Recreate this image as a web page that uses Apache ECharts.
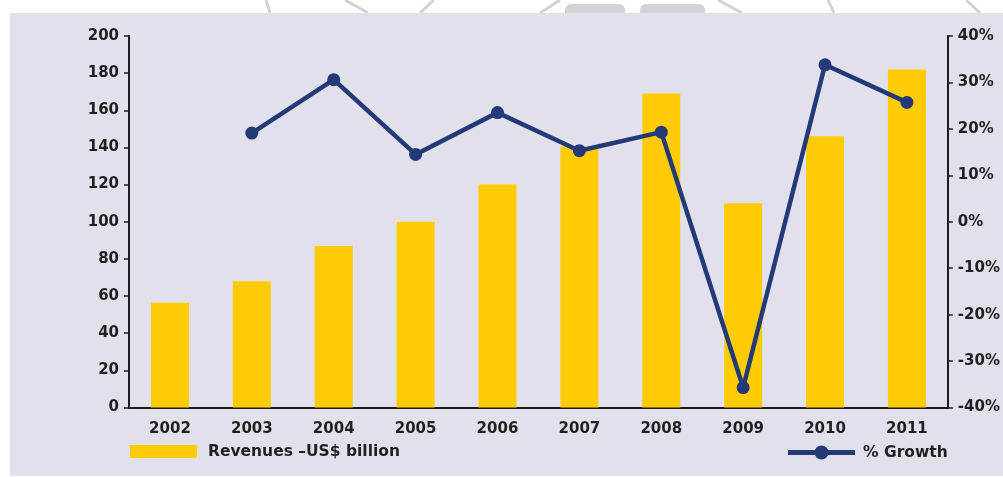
<!DOCTYPE html>
<html>
<head>
<meta charset="utf-8">
<script src="https://cdn.jsdelivr.net/npm/echarts@6/dist/echarts.min.js"></script>
<style>
  html, body { margin: 0; padding: 0; background: #ffffff; }
  #chart { width: 1003px; height: 477px; }
</style>
</head>
<body>
<div id="chart"></div>
<script>
// ---- data ----
const years = ['2002', '2003', '2004', '2005', '2006', '2007', '2008', '2009', '2010', '2011'];
const revenues = [56.4, 68, 87, 100, 120, 140.5, 169, 110, 146, 182];
const growth = [null, 19.1, 30.6, 14.5, 23.5, 15.3, 19.3, -35.7, 33.8, 25.7];
const revenueName = 'Revenues \u2013US$ billion';
const growthName = '% Growth';

const TXT = '#231f20';
const FONT = 'DejaVu Sans';
const WM = '#d3d3d6';
const NAVY = '#243a78';

// legend icon: thick line with a dot in the middle (67 x 14 box)
const lineDotIcon = 'path://M0,4.5 L67,4.5 L67,9.5 L0,9.5 Z M26.5,7 A7,7 0 1,1 40.5,7 A7,7 0 1,1 26.5,7 Z';

const chart = echarts.init(document.getElementById('chart'), null, { renderer: 'canvas' });

const wmLine = (x1, y1, x2, y2) => ({
  type: 'line', z: -20, silent: true,
  shape: { x1, y1, x2, y2 },
  style: { stroke: WM, lineWidth: 3 }
});

chart.setOption({
  backgroundColor: '#ffffff',
  animation: false,
  textStyle: { fontFamily: FONT },
  graphic: [
    wmLine(266, 0, 270, 13),
    wmLine(345, 0, 368, 13),
    wmLine(434, 0, 420, 13),
    wmLine(560, 0, 540, 13),
    { type: 'rect', z: -20, silent: true, shape: { x: 565, y: 4, width: 60, height: 14, r: 6 }, style: { fill: WM } },
    { type: 'rect', z: -20, silent: true, shape: { x: 640, y: 4, width: 65, height: 14, r: 6 }, style: { fill: WM } },
    wmLine(718, 0, 742, 13),
    wmLine(828, 0, 834, 13),
    wmLine(966, 0, 980, 13),
    { type: 'rect', z: -10, silent: true, shape: { x: 10, y: 13, width: 993, height: 463 }, style: { fill: '#e2e1eb' } }
  ],
  grid: { left: 129, right: 54, top: 36, bottom: 69.5, containLabel: false },
  legend: [
    {
      left: 130, top: 440, itemWidth: 67, itemHeight: 13, padding: 0,
      selectedMode: false,
      data: [{ name: revenueName, icon: 'rect' }],
      textStyle: { color: TXT, fontFamily: FONT, fontWeight: 'bold', fontSize: 15.5, lineHeight: 16, padding: [7, 0, 0, 6] }
    },
    {
      left: 788, top: 441, itemWidth: 67, itemHeight: 14, padding: 0,
      selectedMode: false,
      data: [{ name: growthName, icon: lineDotIcon, itemStyle: { color: NAVY } }],
      textStyle: { color: TXT, fontFamily: FONT, fontWeight: 'bold', fontSize: 15.5, lineHeight: 16, padding: [7, 0, 0, 3] }
    }
  ],
  xAxis: {
    type: 'category',
    data: years,
    boundaryGap: true,
    axisLine: { show: true, lineStyle: { color: '#1c1c1c', width: 2 } },
    axisTick: { show: false },
    axisLabel: { margin: 14, color: TXT, fontFamily: FONT, fontWeight: 'bold', fontSize: 15 },
    splitLine: { show: false }
  },
  yAxis: [
    {
      type: 'value', min: 0, max: 200, interval: 20, position: 'left',
      axisLine: { show: true, lineStyle: { color: '#1c1c1c', width: 2 } },
      axisTick: { show: true, length: 5, inside: false, lineStyle: { color: '#1c1c1c', width: 1.5 } },
      axisLabel: { margin: 10, color: TXT, fontFamily: FONT, fontWeight: 'bold', fontSize: 15, padding: [0, 0, 7, 0] },
      splitLine: { show: false }
    },
    {
      type: 'value', min: -40, max: 40, interval: 10, position: 'right',
      axisLine: { show: true, lineStyle: { color: '#1c1c1c', width: 2 } },
      axisTick: { show: true, length: 5, inside: false, lineStyle: { color: '#1c1c1c', width: 1.5 } },
      axisLabel: { margin: 10, color: TXT, fontFamily: FONT, fontWeight: 'bold', fontSize: 15, padding: [0, 0, 7, 0], formatter: '{value}%' },
      splitLine: { show: false }
    }
  ],
  series: [
    {
      name: revenueName,
      type: 'bar',
      data: revenues,
      barWidth: 38,
      itemStyle: { color: '#ffcb05' },
      z: 2
    },
    {
      name: growthName,
      type: 'line',
      yAxisIndex: 1,
      data: growth,
      symbol: 'circle',
      symbolSize: 13,
      connectNulls: false,
      lineStyle: { color: NAVY, width: 4.5 },
      itemStyle: { color: NAVY },
      z: 3
    }
  ]
});
</script>
</body>
</html>
